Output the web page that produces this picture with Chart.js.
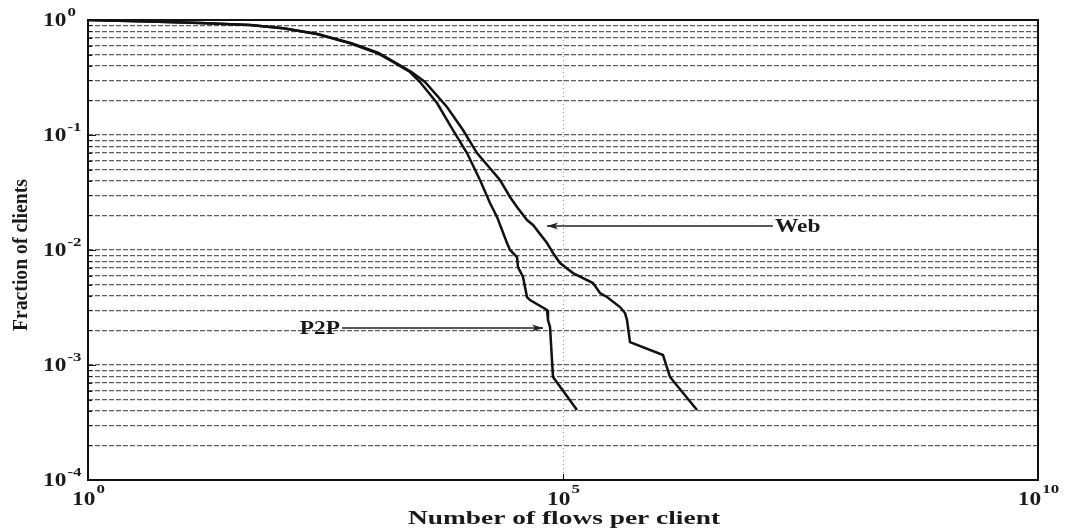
<!DOCTYPE html>
<html>
<head>
<meta charset="utf-8">
<script src="https://cdn.jsdelivr.net/npm/chart.js@4"></script>
<style>
  body { margin: 0; background: #fff; }
  #wrap { width: 1070px; height: 531px; }
</style>
</head>
<body>
<div id="wrap"><canvas id="cdf" width="1070" height="531"></canvas></div>
<script>
// CCDF of flows per client
const p2pFlows = [1, 4.49, 15.1, 50.7, 112.9, 257.4, 573, 1102, 1623, 2452, 3124, 4717, 6950, 9757,
  13370, 17045, 20200, 25730, 27690, 32800, 33600, 37930, 41780, 44940, 67900, 69510, 73000, 78500, 140400];
const p2pFrac = [1, 0.9704, 0.942, 0.905, 0.847, 0.7555, 0.627, 0.5164, 0.4313, 0.353, 0.289, 0.1898, 0.1105, 0.0697,
  0.0406, 0.02563, 0.0194, 0.0115, 0.01, 0.00869, 0.00711, 0.00582, 0.0039, 0.00367, 0.00301, 0.00246, 0.00214, 0.000787, 0.000406];

const webFlows = [1, 4.49, 15.1, 50.7, 113.5, 260, 594, 1143, 1683, 2543, 3527, 6012, 8854, 12435,
  21720, 27690, 32800, 41780, 48330, 67900, 78500, 93000, 127400, 207000, 245000, 290600, 398000, 449500,
  472000, 507600, 1129000, 1337000, 2574000];
const webFrac = [1, 0.9704, 0.942, 0.905, 0.847, 0.7555, 0.627, 0.5164, 0.4313, 0.353, 0.289, 0.1752, 0.1105, 0.0697,
  0.0406, 0.0289, 0.02365, 0.01823, 0.0165, 0.0115, 0.00942, 0.0077, 0.0063, 0.00516, 0.00423, 0.0039, 0.00319, 0.00283,
  0.00246, 0.00158, 0.00122, 0.000787, 0.000406];

const xTicks = [1, 1e5, 1e10];
const xTickExp = ["0", "5", "10"];
const yMajor = [1e-4, 1e-3, 1e-2, 1e-1, 1];
const yMajorExp = ["-4", "-3", "-2", "-1", "0"];

// every 1..9 x 10^k line between the majors
const yGrid = [];
yMajor.forEach((m, i) => {
  yGrid.push(m);
  if (i < yMajor.length - 1) {
    for (let k = 2; k <= 9; k++) yGrid.push(m * k);
  }
});

const toPts = (xs, ys) => xs.map((x, i) => ({ x: x, y: ys[i] }));

const FONT = '"Liberation Serif", "DejaVu Serif", serif';

// draw bold serif text stretched sideways like the scanned figure
function drawStretched(ctx, str, x, y, size, sx, align) {
  ctx.save();
  ctx.font = "bold " + size + "px " + FONT;
  ctx.textBaseline = "middle";
  ctx.textAlign = align;
  ctx.translate(x, y);
  ctx.scale(sx, 1);
  ctx.fillText(str, 0, 0);
  ctx.restore();
}
function textW(ctx, str, size, sx) {
  ctx.save();
  ctx.font = "bold " + size + "px " + FONT;
  const w = ctx.measureText(str).width * sx;
  ctx.restore();
  return w;
}
function arrow(ctx, x1, y1, x2, y2) {
  ctx.save();
  ctx.strokeStyle = "#222";
  ctx.fillStyle = "#222";
  ctx.lineWidth = 1.5;
  ctx.beginPath();
  ctx.moveTo(x1, y1);
  ctx.lineTo(x2, y2);
  ctx.stroke();
  const dir = Math.sign(x2 - x1);
  ctx.beginPath();
  ctx.moveTo(x2, y2);
  ctx.lineTo(x2 - dir * 11, y2 - 3.5);
  ctx.lineTo(x2 - dir * 8, y2);
  ctx.lineTo(x2 - dir * 11, y2 + 3.5);
  ctx.closePath();
  ctx.fill();
  ctx.restore();
}

const decorations = {
  id: "decorations",
  afterDraw(chart) {
    const ctx = chart.ctx;
    const a = chart.chartArea;
    const xs = chart.scales.x;
    const ys = chart.scales.y;
    const SX = 1.3;

    // tick marks inside left edge
    ctx.save();
    ctx.strokeStyle = "#111";
    ctx.lineWidth = 1;
    yGrid.forEach((v) => {
      const py = Math.round(ys.getPixelForValue(v)) + 0.5;
      const len = yMajor.includes(v) ? 8 : 4;
      ctx.beginPath();
      ctx.moveTo(a.left, py);
      ctx.lineTo(a.left + len, py);
      ctx.stroke();
    });
    xTicks.forEach((v) => {
      const px = Math.round(xs.getPixelForValue(v)) + 0.5;
      ctx.beginPath();
      ctx.moveTo(px, a.bottom);
      ctx.lineTo(px, a.bottom - 6);
      ctx.stroke();
    });
    // frame
    ctx.lineWidth = 2;
    ctx.strokeStyle = "#111";
    ctx.strokeRect(a.left, a.top, a.right - a.left, a.bottom - a.top);
    ctx.restore();

    ctx.save();
    ctx.fillStyle = "#1a1a1a";
    // y tick labels 10^k
    yMajor.forEach((v, i) => {
      const py = ys.getPixelForValue(v);
      const w10 = textW(ctx, "10", 18, SX);
      drawStretched(ctx, "10", 43, py + 1.5, 18, SX, "left");
      drawStretched(ctx, yMajorExp[i], 43 + w10 + 1, py - 7, 13, SX, "left");
    });
    // x tick labels
    xTicks.forEach((v, i) => {
      const px = xs.getPixelForValue(v);
      const w10 = textW(ctx, "10", 18, SX);
      const we = textW(ctx, xTickExp[i], 13, SX);
      const left = px - (w10 + we) / 2;
      drawStretched(ctx, "10", left, a.bottom + 20, 18, SX, "left");
      drawStretched(ctx, xTickExp[i], left + w10 + 1, a.bottom + 10, 13, SX, "left");
    });

    // axis titles
    const xt = "Number of flows per client";
    const xtW = textW(ctx, xt, 18, 1);
    drawStretched(ctx, xt, (a.left + a.right) / 2 + 1, 519, 18, 312 / xtW, "center");

    const yt = "Fraction of clients";
    const ytW = textW(ctx, yt, 17, 1);
    ctx.save();
    ctx.font = "bold 17px " + FONT;
    ctx.textAlign = "center";
    ctx.textBaseline = "middle";
    ctx.translate(22, 255);
    ctx.rotate(-Math.PI / 2);
    ctx.scale(152 / ytW, 1.25);
    ctx.fillText(yt, 0, 0);
    ctx.restore();

    // annotations
    const webTip = { x: xs.getPixelForValue(68000), y: ys.getPixelForValue(0.0162) };
    const webTail = { x: xs.getPixelForValue(1.62e7), y: ys.getPixelForValue(0.0162) };
    arrow(ctx, webTail.x, webTail.y, webTip.x, webTip.y);
    drawStretched(ctx, "Web", webTail.x + 2, webTail.y + 1, 18, SX, "left");

    const p2pTip = { x: xs.getPixelForValue(61550), y: ys.getPixelForValue(0.0021) };
    const p2pTail = { x: xs.getPixelForValue(472), y: ys.getPixelForValue(0.0021) };
    arrow(ctx, p2pTail.x, p2pTail.y, p2pTip.x, p2pTip.y);
    drawStretched(ctx, "P2P", p2pTail.x - 2, p2pTail.y + 1, 18, SX, "right");
    ctx.restore();
  }
};

new Chart(document.getElementById("cdf"), {
  type: "line",
  data: {
    datasets: [
      {
        label: "Web",
        data: toPts(webFlows, webFrac),
        borderColor: "#111",
        borderWidth: 2.5,
        pointRadius: 0,
        tension: 0,
        fill: false
      },
      {
        label: "P2P",
        data: toPts(p2pFlows, p2pFrac),
        borderColor: "#111",
        borderWidth: 2.5,
        pointRadius: 0,
        tension: 0,
        fill: false
      }
    ]
  },
  options: {
    responsive: false,
    animation: false,
    events: [],
    layout: { padding: { left: 88, top: 20, right: 32, bottom: 51 } },
    plugins: {
      legend: { display: false },
      tooltip: { enabled: false }
    },
    scales: {
      x: {
        type: "logarithmic",
        min: 1,
        max: 1e10,
        afterBuildTicks: (scale) => {
          scale.ticks = xTicks.map((v) => ({ value: v }));
        },
        ticks: { display: false },
        grid: { color: "#9a9a9a", lineWidth: 1, drawTicks: false },
        border: { display: false, dash: [1, 3] }
      },
      y: {
        type: "logarithmic",
        min: 1e-4,
        max: 1,
        afterBuildTicks: (scale) => {
          scale.ticks = yGrid.map((v) => ({ value: v }));
        },
        ticks: { display: false },
        grid: { color: "#5e5e5e", lineWidth: 1.2, drawTicks: false },
        border: { display: false, dash: [5, 2] }
      }
    }
  },
  plugins: [decorations]
});
</script>
</body>
</html>
